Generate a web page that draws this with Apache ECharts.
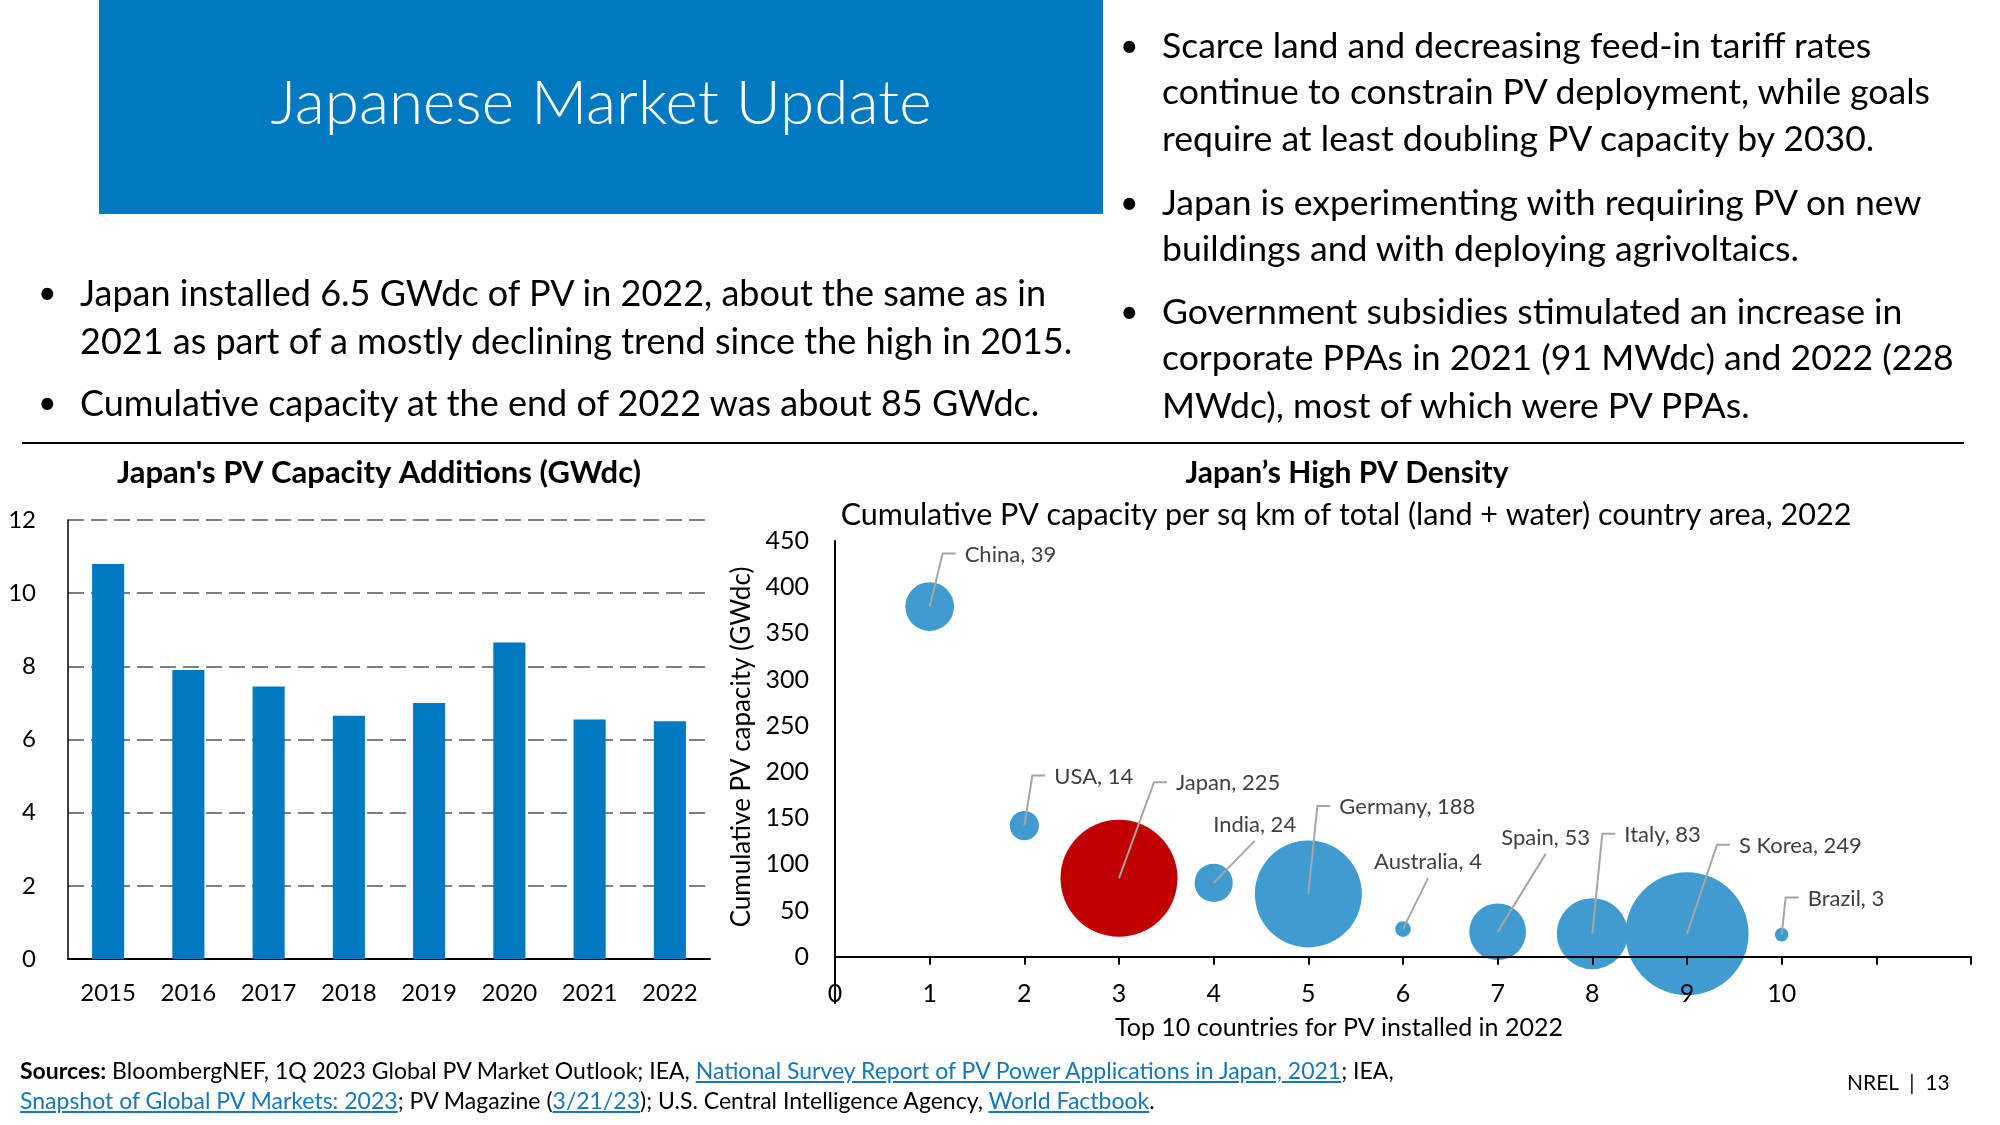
<!DOCTYPE html>
<html>
<head>
<meta charset="utf-8">
<script src="https://cdn.jsdelivr.net/npm/echarts@6/dist/echarts.min.js"></script>
<style>
  html, body { margin: 0; padding: 0; background: #fff; }
  body { width: 2000px; height: 1125px; position: relative; overflow: hidden; font-family: Lato, "Open Sans", sans-serif; }
  #chart { position: absolute; left: 0; top: 0; width: 2000px; height: 1125px; }
  .ov { position: absolute; white-space: nowrap; color: #000; pointer-events: none; }
  #titlebox { position: absolute; left: 99px; top: 0; width: 1004px; height: 214px; background: #0079C1; }
  #titlebox span { position: absolute; left: 0; width: 100%; top: 60px; text-align: center; color: #fff; font-size: 62px; font-weight: 300; line-height: 80px; }
  .bl { font-size: 36px; line-height: 40px; }
  .br { font-size: 35.6px; line-height: 40px; }
  .dot { font-size: 32px; line-height: 40px; }
  .rule { position: absolute; left: 22px; top: 442px; width: 1942px; height: 2px; background: #000; }
  .src { font-size: 23px; line-height: 28px; }
  .src a { color: #1478BE; text-decoration: underline; }
</style>
</head>
<body>
<div id="chart"></div>
<div id="titlebox"><span>Japanese Market Update</span></div>

<div class="ov dot" style="left:38px;top:272px">•</div>
<div class="ov bl" style="left:80px;top:272px">Japan installed 6.5 GWdc of PV in 2022, about the same as in</div>
<div class="ov bl" style="left:80px;top:320px">2021 as part of a mostly declining trend since the high in 2015.</div>
<div class="ov dot" style="left:38px;top:382px">•</div>
<div class="ov bl" style="left:80px;top:382px">Cumulative capacity at the end of 2022 was about 85 GWdc.</div>

<div class="ov dot" style="left:1120px;top:25px">•</div>
<div class="ov br" style="left:1162px;top:25px">Scarce land and decreasing feed-in tariff rates</div>
<div class="ov br" style="left:1162px;top:71px">continue to constrain PV deployment, while goals</div>
<div class="ov br" style="left:1162px;top:118px">require at least doubling PV capacity by 2030.</div>
<div class="ov dot" style="left:1120px;top:182px">•</div>
<div class="ov br" style="left:1162px;top:182px">Japan is experimenting with requiring PV on new</div>
<div class="ov br" style="left:1162px;top:228px">buildings and with deploying agrivoltaics.</div>
<div class="ov dot" style="left:1120px;top:291px">•</div>
<div class="ov br" style="left:1162px;top:291px">Government subsidies stimulated an increase in</div>
<div class="ov br" style="left:1162px;top:337px">corporate PPAs in 2021 (91 MWdc) and 2022 (228</div>
<div class="ov br" style="left:1162px;top:385px">MWdc), most of which were PV PPAs.</div>

<div class="rule"></div>

<div class="ov src" style="left:20px;top:1056px"><b>Sources:</b> BloombergNEF, 1Q 2023 Global PV Market Outlook; IEA, <a>National Survey Report of PV Power Applications in Japan, 2021</a>; IEA,</div>
<div class="ov src" style="left:20px;top:1086px"><a>Snapshot of Global PV Markets: 2023</a>; PV Magazine (<a>3/21/23</a>); U.S. Central Intelligence Agency, <a>World Factbook</a>.</div>
<div class="ov" style="left:1847px;top:1069px;font-size:21px;line-height:26px;">NREL &nbsp;|&nbsp; 13</div>

<script>
// ---------- Data ----------
const years = ['2015', '2016', '2017', '2018', '2019', '2020', '2021', '2022'];
const additionsGWdc = [10.8, 7.9, 7.45, 6.65, 7.0, 8.65, 6.55, 6.5];

const countries = ['China', 'USA', 'Japan', 'India', 'Germany', 'Australia', 'Spain', 'Italy', 'S Korea', 'Brazil'];
const countryRank = [1, 2, 3, 4, 5, 6, 7, 8, 9, 10];
const cumulativeGWdc = [379, 142, 85, 80, 68, 30, 27, 25, 25, 24];
const densityPerSqKm = [39, 14, 225, 24, 188, 4, 53, 83, 249, 3];

const barTicks = [0, 2, 4, 6, 8, 10, 12];
const bubbleYTicks = [0, 50, 100, 150, 200, 250, 300, 350, 400, 450];
const bubbleXTicks = [0, 1, 2, 3, 4, 5, 6, 7, 8, 9, 10];

// ---------- Styles / layout ----------
const highlightCountry = 'Japan';
const labelLeader = { // [dx, dy, kind] pixel offsets of label anchor from bubble center
  'China': [13, -53, 'side'], 'USA': [8, -50, 'side'], 'Japan': [35, -96, 'side'],
  'India': [41, -42, 'top'], 'Germany': [9, -88, 'side'], 'Australia': [25, -51, 'top'],
  'Spain': [48, -78, 'top'], 'Italy': [10, -100, 'side'], 'S Korea': [30, -89, 'side'],
  'Brazil': [4, -37, 'side']
};
const FONT = 'Lato, "Open Sans", sans-serif';
const bubbleGrid = { left: 835, right: 29, top: 541, bottom: 122 };
const bubbleYMin = -50, bubbleYMax = 450;
// lift the category axis from the plot bottom to the zero line
const zeroLift = (1125 - bubbleGrid.top - bubbleGrid.bottom) * (0 - bubbleYMin) / (bubbleYMax - bubbleYMin);

const bubbleData = countries.map((n, i) => {
  const l = labelLeader[n];
  const lab = l[2] === 'side'
    ? { offset: [l[0] + 22, l[1] + 1], align: 'left', verticalAlign: 'middle' }
    : { offset: [l[0], l[1] - 16], align: 'center', verticalAlign: 'middle' };
  const item = { name: n, value: [countryRank[i], cumulativeGWdc[i], densityPerSqKm[i]], label: lab };
  if (n === highlightCountry) item.itemStyle = { color: '#C00000' };
  return item;
});

const chart = echarts.init(document.getElementById('chart'), null, { renderer: 'canvas' });

const titles = [
  { type: 'text', x: 379, y: 473, z: 10, style: { text: "Japan's PV Capacity Additions (GWdc)", font: 'bold 31px ' + FONT, fill: '#000', align: 'center', verticalAlign: 'middle' } },
  { type: 'text', x: 1347, y: 473, z: 10, style: { text: 'Japan\u2019s High PV Density', font: 'bold 30px ' + FONT, fill: '#000', align: 'center', verticalAlign: 'middle' } },
  { type: 'text', x: 1346, y: 515, z: 10, style: { text: 'Cumulative PV capacity per sq km of total (land + water) country area, 2022', font: '30.5px ' + FONT, fill: '#000', align: 'center', verticalAlign: 'middle' } },
  { type: 'text', x: 742, y: 747, rotation: Math.PI / 2, z: 10, style: { text: 'Cumulative PV capacity (GWdc)', font: '26px ' + FONT, fill: '#000', align: 'center', verticalAlign: 'middle' } },
  { type: 'text', x: 1339, y: 1028, z: 10, style: { text: 'Top 10 countries for PV installed in 2022', font: '25px ' + FONT, fill: '#000', align: 'center', verticalAlign: 'middle' } }
];

const option = {
  animation: false,
  textStyle: { fontFamily: FONT },
  grid: [
    { left: 68, right: 1290, top: 520, bottom: 166 },
    bubbleGrid
  ],
  xAxis: [
    {
      gridIndex: 0, type: 'category', data: years,
      axisLine: { show: true, lineStyle: { color: '#000', width: 2 } },
      axisTick: { show: false },
      axisLabel: { color: '#000', fontSize: 24, margin: 22, fontFamily: FONT }
    },
    {
      gridIndex: 1, type: 'value', min: 0, max: 12, interval: 1,
      offset: -zeroLift, z: 5,
      axisLine: { show: true, onZero: false, lineStyle: { color: '#000', width: 2 } },
      axisTick: { show: true, inside: false, length: 8, lineStyle: { color: '#000', width: 2 } },
      axisLabel: { color: '#000', fontSize: 25, margin: 25, fontFamily: FONT,
        formatter: v => bubbleXTicks.indexOf(v) >= 0 ? String(v) : '' },
      splitLine: { show: false }
    }
  ],
  yAxis: [
    {
      gridIndex: 0, type: 'value', min: 0, max: 12, interval: 2,
      axisLine: { show: true, lineStyle: { color: '#000', width: 1.5 } },
      axisTick: { show: false },
      axisLabel: { color: '#000', fontSize: 24, margin: 32, fontFamily: FONT,
        formatter: v => barTicks.indexOf(v) >= 0 ? String(v) : '' },
      splitLine: { show: true, lineStyle: { color: '#7F7F7F', width: 2, type: [16, 7] } }
    },
    {
      gridIndex: 1, type: 'value', min: bubbleYMin, max: bubbleYMax, interval: 50,
      axisLine: { show: true, onZero: false, lineStyle: { color: '#000', width: 2 } },
      axisTick: { show: false },
      axisLabel: { color: '#000', fontSize: 25, margin: 26, fontFamily: FONT,
        formatter: v => bubbleYTicks.indexOf(v) >= 0 ? String(v) : '' },
      splitLine: { show: false }
    }
  ],
  series: [
    {
      type: 'bar', xAxisIndex: 0, yAxisIndex: 0, data: additionsGWdc,
      barWidth: '40%', itemStyle: { color: '#0079C1' }
    },
    {
      type: 'scatter', xAxisIndex: 1, yAxisIndex: 1, data: bubbleData,
      symbol: 'circle',
      symbolSize: v => 7.8 * Math.sqrt(v[2]),
      itemStyle: { color: '#409BD0', opacity: 1 },
      label: {
        show: true, position: 'inside', color: '#404040', fontSize: 22, fontFamily: FONT,
        formatter: p => p.name + ', ' + p.value[2]
      },
      emphasis: { disabled: true },
      z: 3
    }
  ],
  graphic: titles
};

chart.setOption(option);

// Leader lines from each bubble center to its label, positioned through the chart's own scales
const leaders = bubbleData.map(d => {
  const c = chart.convertToPixel({ seriesIndex: 1 }, [d.value[0], d.value[1]]);
  const l = labelLeader[d.name];
  const p1 = [c[0] + l[0], c[1] + l[1]];
  const pts = l[2] === 'side' ? [c, p1, [p1[0] + 13, p1[1]]] : [c, p1];
  return { type: 'polyline', z: 20, shape: { points: pts }, style: { stroke: '#A6A6A6', lineWidth: 2, fill: null } };
});
chart.setOption({ graphic: titles.concat(leaders) });
</script>
</body>
</html>
